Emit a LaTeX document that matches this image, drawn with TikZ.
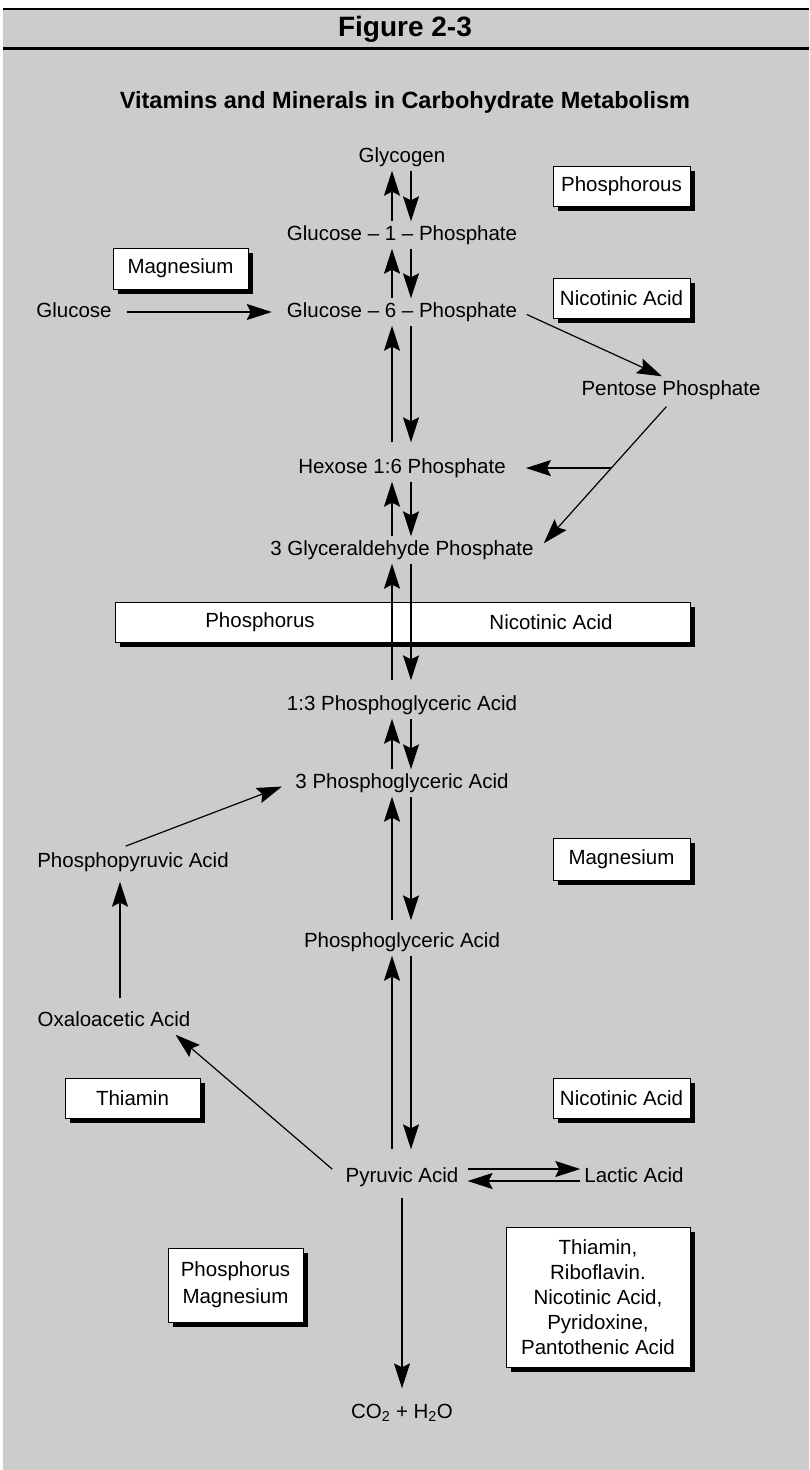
\documentclass[tikz,border=0pt]{standalone}
\usepackage{fontspec}
\setmainfont{Liberation Sans}
\usetikzlibrary{arrows.meta,calc,shadows}
\definecolor{panelgray}{RGB}{204,204,204}

\begin{document}
\begin{tikzpicture}[x=1pt,y=-1pt,>={Stealth[length=25pt,width=16pt,inset=4pt]},
  every node/.style={font=\fontsize{20.5}{25}\selectfont},
  chem/.style={inner sep=4pt,text height=15pt,text depth=4pt},
  vbox/.style={draw,fill=white,line width=0.8pt,inner sep=0pt,align=center,
    drop shadow={shadow xshift=4.5pt,shadow yshift=-4.5pt,fill=black,opacity=1}},
  flow/.style={->,line width=1.2pt}]
\useasboundingbox (0,0) rectangle (809,1470);
\fill[white] (0,0) rectangle (809,1470);
\fill[panelgray] (3,8) rectangle (809,1470);
\draw[line width=2.5pt] (3,9) -- (809,9);
\draw[line width=2.5pt] (3,48.5) -- (809,48.5);
\node[font=\bfseries\fontsize{28}{30}\selectfont] (figno) at (405,29) {Figure 2-3};
\node[font=\bfseries\fontsize{23.5}{26}\selectfont] (caption) at (405,102) {Vitamins and Minerals in Carbohydrate Metabolism};

\node[vbox,minimum width=137pt,minimum height=40pt] (phosA) at (621.5,186) {Phosphorous};
\node[vbox,minimum width=135pt,minimum height=41pt] (mgA) at (180.5,268.5) {Magnesium};
\node[vbox,minimum width=137pt,minimum height=40pt] (nicA) at (621.5,298) {Nicotinic Acid};
\node[vbox,minimum width=575pt,minimum height=40pt] (cofbar) at (402.5,622) {};
\node (barP) at (260,622) {Phosphorus};
\node (barN) at (551,622) {Nicotinic Acid};
\node[vbox,minimum width=137pt,minimum height=42pt] (mgB) at (621.5,859) {Magnesium};
\node[vbox,minimum width=135pt,minimum height=40pt] (thiA) at (132.5,1098) {Thiamin};
\node[vbox,minimum width=137pt,minimum height=40pt] (nicB) at (621.5,1098) {Nicotinic Acid};
\node[vbox,minimum width=135pt,minimum height=74pt] (pmg) at (235.5,1285) {Phosphorus\\[2pt]Magnesium};
\node[vbox,minimum width=184pt,minimum height=140pt] (vitB) at (598,1297) {Thiamin,\\Riboflavin.\\Nicotinic Acid,\\Pyridoxine,\\Pantothenic Acid};

\node[chem] (glyc) at (402,157) {Glycogen};
\node[chem] (g1p) at (402,235) {Glucose – 1 – Phosphate};
\node[chem] (g6p) at (402,312) {Glucose – 6 – Phosphate};
\node[chem] (gluc) at (74,312) {Glucose};
\node[chem] (pent) at (671,390) {Pentose Phosphate};
\node[chem] (hex) at (402,468) {Hexose 1:6 Phosphate};
\node[chem] (gap) at (402,550) {3 Glyceraldehyde Phosphate};
\node[chem] (bpg) at (402,705) {1:3 Phosphoglyceric Acid};
\node[chem] (pga3) at (402,783) {3 Phosphoglyceric Acid};
\node[chem] (pep) at (133,862) {Phosphopyruvic Acid};
\node[chem] (pga) at (402,942) {Phosphoglyceric Acid};
\node[chem] (oaa) at (114,1021) {Oxaloacetic Acid};
\node[chem] (pyr) at (402,1177) {Pyruvic Acid};
\node[chem] (lac) at (634,1177) {Lactic Acid};
\node[chem] (co2) at (402,1413) {CO\textsubscript{2} + H\textsubscript{2}O};

\draw[flow] ([xshift=-10pt]g1p.north) -- ([xshift=-10pt]glyc.south);
\draw[flow] ([xshift=9pt]glyc.south) -- ([xshift=9pt]g1p.north);
\draw[flow] ([xshift=-10pt]g6p.north) -- ([xshift=-10pt]g1p.south);
\draw[flow] ([xshift=9pt]g1p.south) -- ([xshift=9pt]g6p.north);
\draw[flow,shorten <=12pt] ([xshift=-10pt]hex.north) -- ([xshift=-10pt]g6p.south);
\draw[flow,shorten >=12pt] ([xshift=9pt]g6p.south) -- ([xshift=9pt]hex.north);
\draw[flow] ([xshift=-10pt]gap.north) -- ([xshift=-10pt]hex.south);
\draw[flow] ([xshift=9pt]hex.south) -- ([xshift=9pt]gap.north);
\draw[flow,shorten <=11pt] ([xshift=-10pt]bpg.north) -- ([xshift=-10pt]gap.south);
\draw[flow,shorten >=11pt] ([xshift=9pt]gap.south) -- ([xshift=9pt]bpg.north);
\draw[flow] ([xshift=-10pt]pga3.north) -- ([xshift=-10pt]bpg.south);
\draw[flow] ([xshift=9pt]bpg.south) -- ([xshift=9pt]pga3.north);
\draw[flow,shorten <=8pt] ([xshift=-10pt]pga.north) -- ([xshift=-10pt]pga3.south);
\draw[flow,shorten >=8pt] ([xshift=9pt]pga3.south) -- ([xshift=9pt]pga.north);
\draw[flow,shorten <=14pt] ([xshift=-10pt]pyr.north) -- ([xshift=-10pt]pga.south);
\draw[flow,shorten >=14pt] ([xshift=9pt]pga.south) -- ([xshift=9pt]pyr.north);

\draw[flow,shorten <=11pt] (gluc.east) -- ([xshift=-11pt]g6p.west);
\draw[flow,shorten <=6pt] (g6p.east) -- ([xshift=-9pt]pent.north);
\draw[flow,shorten <=4pt,shorten >=9pt] ([xshift=-2pt]pent.south) -- (gap.east);
\coordinate (fork) at ($([xshift=-2pt]pent.south)!0.44!(gap.east)$);
\draw[flow,shorten >=16pt] (fork) -- (fork -| hex.east);

\draw[flow,shorten <=6pt,shorten >=10pt] ([xshift=-13pt]pep.north) -- (pga3.west);
\draw[flow,shorten <=9pt,shorten >=6pt] ([xshift=6pt]oaa.north) -- ([xshift=-13pt]pep.south);
\draw[flow,shorten <=12pt] (pyr.west) -- ([xshift=-19pt]oaa.south east);
\draw[flow,shorten <=5pt] ([yshift=8pt]pyr.east) -- ([yshift=8pt]lac.west);
\draw[flow,shorten >=5pt] ([yshift=-4pt]lac.west) -- ([yshift=-4pt]pyr.east);
\draw[flow,shorten <=7pt,shorten >=11pt] (pyr.south) -- (co2.north);
\end{tikzpicture}
\end{document}
